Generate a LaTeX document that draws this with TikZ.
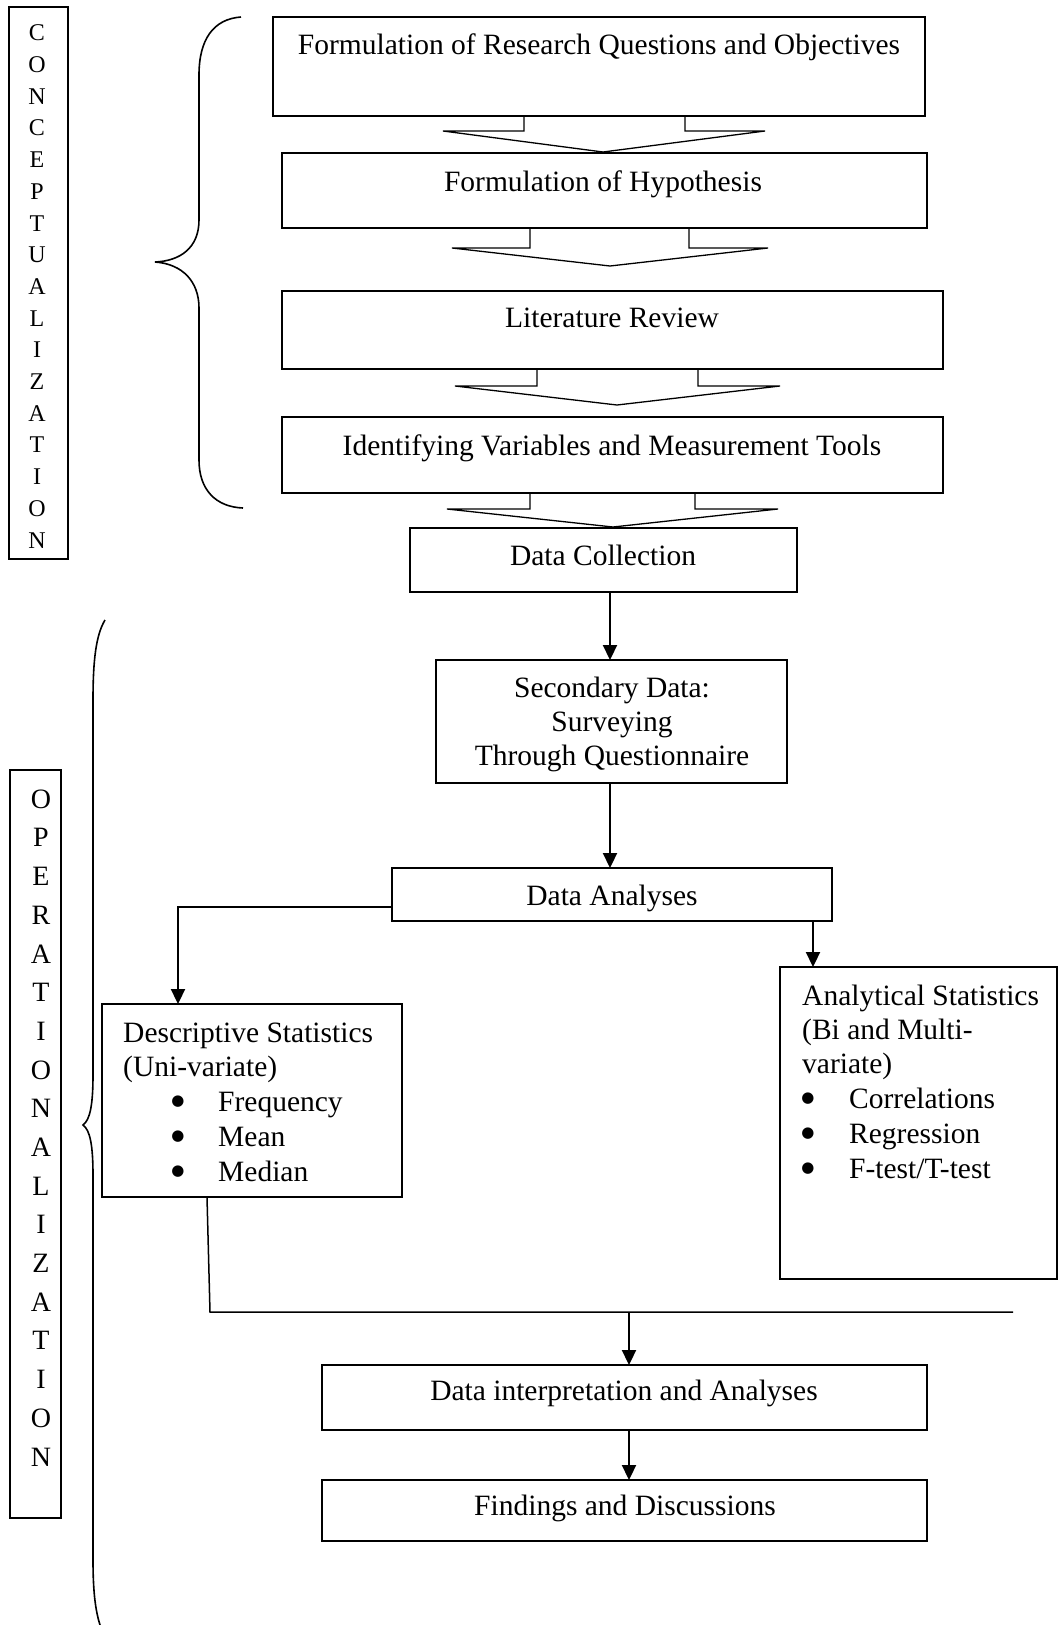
\documentclass[tikz,border=0pt]{standalone}
\usepackage{fontspec}
\setmainfont{Liberation Serif}
\newfontfamily\bulfont{DejaVu Sans}
\usetikzlibrary{arrows.meta}
\begin{document}
\begin{tikzpicture}[x=1pt,y=-1pt,
  box/.style={draw,line width=1.5pt,inner sep=0pt,outer sep=0pt,anchor=north west},
  txt/.style={font=\fontsize{29.5}{34.5}\selectfont,inner sep=0pt,anchor=base},
  ltxt/.style={txt,anchor=base west},
  bul/.style={font=\bulfont\fontsize{15}{15}\selectfont,inner sep=0pt,anchor=center},
  arr/.style={line width=2.2pt,-{Triangle[length=15pt,width=14pt]}},
  conn/.style={line width=1.5pt},
  blk/.style={line width=1.3pt,line join=miter},
  brc/.style={line width=1.6pt}]
\useasboundingbox (0,0) rectangle (1058,1625);

% boxes
\node[box,minimum width=652pt,minimum height=99pt] (b1) at (273,17) {};
\node[box,minimum width=645pt,minimum height=75pt] (b2) at (282,153) {};
\node[box,minimum width=661pt,minimum height=78pt] (b3) at (282,291) {};
\node[box,minimum width=661pt,minimum height=76pt] (b4) at (282,417) {};
\node[box,minimum width=387pt,minimum height=64pt] (dc) at (410,528) {};
\node[box,minimum width=351pt,minimum height=123pt] (sd) at (436,660) {};
\node[box,minimum width=440pt,minimum height=53pt] (da) at (392,868) {};
\node[box,minimum width=300pt,minimum height=193pt] (ds) at (102,1004) {};
\node[box,minimum width=277pt,minimum height=312pt] (as) at (780,967) {};
\node[box,minimum width=605pt,minimum height=65pt] (di) at (322,1365) {};
\node[box,minimum width=605pt,minimum height=61pt] (fd) at (322,1480) {};
\node[box,minimum width=59pt,minimum height=552pt] (conc) at (9,7) {};
\node[box,minimum width=51pt,minimum height=748pt] (oper) at (10,770) {};

% texts
\node[txt] (t1) at (599,54) {Formulation of Research Questions and Objectives};
\node[txt] (t2) at (603,191) {Formulation of Hypothesis};
\node[txt] (t3) at (612,327) {Literature Review};
\node[txt] (t4) at (612,455) {Identifying Variables and Measurement Tools};
\node[txt] (t5) at (603,565) {Data Collection};
\node[txt] (t6a) at (612,697) {Secondary Data:};
\node[txt] (t6b) at (612,731) {Surveying};
\node[txt] (t6c) at (612,765) {Through Questionnaire};
\node[txt] (t7) at (612,905) {Data Analyses};
\node[txt] (t10) at (624,1400) {Data interpretation and Analyses};
\node[txt] (t11) at (625,1515) {Findings and Discussions};

\node[ltxt] (d1) at (123,1042) {Descriptive Statistics};
\node[ltxt] (d2) at (123,1076) {(Uni-variate)};
\foreach \w [count=\i] in {Frequency,Mean,Median}{
  \node[bul] (db\i) at (178,{1102+35*(\i-1)}) {●};
  \node[ltxt] (di\i) at (218,{1111+35*(\i-1)}) {\w};
}
\node[ltxt] (a1) at (802,1005) {Analytical Statistics};
\node[ltxt] (a2) at (802,1039) {(Bi and Multi-};
\node[ltxt] (a3) at (802,1073) {variate)};
\foreach \w [count=\i] in {Correlations,Regression,F-test/T-test}{
  \node[bul] (ab\i) at (808,{1099+35*(\i-1)}) {●};
  \node[ltxt] (ai\i) at (849,{1108+35*(\i-1)}) {\w};
}

% vertical labels
\foreach \l [count=\i] in {C,O,N,C,E,P,T,U,A,L,I,Z,A,T,I,O,N}{
  \node[font=\fontsize{24}{28}\selectfont,inner sep=0pt] (cl\i) at (37,{33+31.7*(\i-1)}) {\l};
}
\foreach \l [count=\i] in {O,P,E,R,A,T,I,O,N,A,L,I,Z,A,T,I,O,N}{
  \node[font=\fontsize{28}{32}\selectfont,inner sep=0pt] (ol\i) at (41,{799+38.7*(\i-1)}) {\l};
}

% block arrows
\draw[blk] (524,116) -- (524,131) -- (443,131) -- (603,152) -- (765,131) -- (685,131) -- (685,116);
\draw[blk] (530,228) -- (530,248) -- (452,248) -- (610,266) -- (768,248) -- (689,248) -- (689,228);
\draw[blk] (537,369) -- (537,386) -- (455,386) -- (617,405) -- (780,386) -- (698,386) -- (698,369);
\draw[blk] (530,493) -- (530,509) -- (447,509) -- (613,527) -- (778,509) -- (695,509) -- (695,493);

% connectors
\coordinate (xa) at (610,0);
\coordinate (xb) at (813,0);
\coordinate (xc) at (178,0);
\coordinate (xd) at (629,0);
\coordinate (ya) at (0,907);
\coordinate (jl) at (210,1312);
\coordinate (jr) at (1013,1312);
\draw[arr] (dc.south -| xa) -- (sd.north -| xa);
\draw[arr] (sd.south -| xa) -- (da.north -| xa);
\draw[arr] (da.south -| xb) -- (as.north -| xb);
\draw[arr] (da.west |- ya) -- (xc |- ya) -- (ds.north -| xc);
\draw[conn] (ds.south -| 207,0) -- (jl) -- (jr);
\draw[arr] (jl -| xd) -- (di.north -| xd);
\draw[arr] (di.south -| xd) -- (fd.north -| xd);

% braces
\draw[brc] (241,17) .. controls (213,19) and (199,40) .. (199,75) -- (199,220)
  .. controls (199,248) and (180,261) .. (155,262)
  .. controls (183,264) and (199,282) .. (199,308) -- (199,460)
  .. controls (199,490) and (216,507) .. (243,508);
\draw[brc] (105,620) .. controls (96,635) and (93,660) .. (93,700) -- (93,1075)
  .. controls (93,1105) and (90,1120) .. (83,1125)
  .. controls (90,1130) and (93,1145) .. (93,1175) -- (93,1560)
  .. controls (93,1595) and (96,1612) .. (100,1625);
\end{tikzpicture}
\end{document}
